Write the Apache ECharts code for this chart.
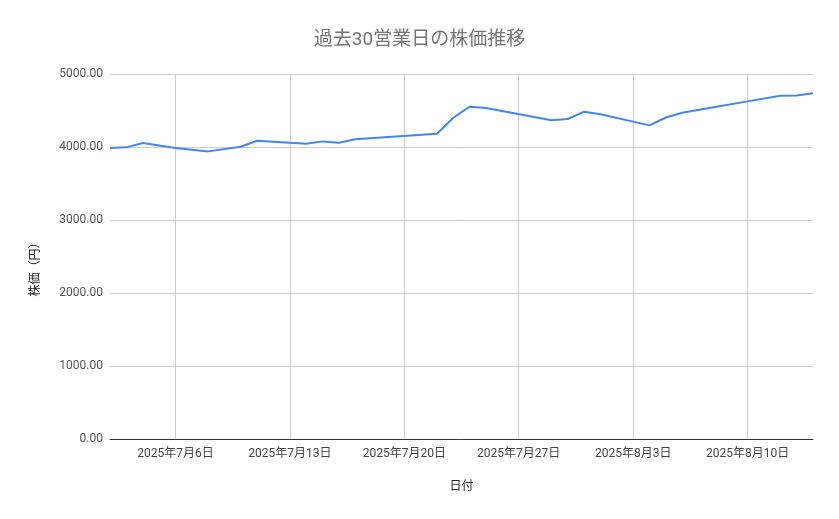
<!DOCTYPE html>
<html>
<head>
<meta charset="utf-8">
<script src="https://cdn.jsdelivr.net/npm/echarts@6/dist/echarts.min.js"></script>
<style>
  html, body { margin: 0; padding: 0; background: #fff; }
  #chart { width: 839px; height: 519px; }
</style>
</head>
<body>
<div id="chart"></div>
<script>
// 株価データ
const dates = [
  "2025-07-02", "2025-07-03", "2025-07-04", "2025-07-06", "2025-07-08",
  "2025-07-10", "2025-07-11", "2025-07-14", "2025-07-15", "2025-07-16",
  "2025-07-17", "2025-07-22", "2025-07-23", "2025-07-24", "2025-07-25",
  "2025-07-29", "2025-07-30", "2025-07-31", "2025-08-01", "2025-08-04",
  "2025-08-05", "2025-08-06", "2025-08-08", "2025-08-10", "2025-08-12",
  "2025-08-13", "2025-08-14"
];
const prices = [
  3985, 3995, 4055, 3985, 3940,
  4004, 4086, 4045, 4077, 4059,
  4107, 4182, 4401, 4552, 4534,
  4367, 4384, 4484, 4449, 4296,
  4404, 4470, 4548, 4625, 4703,
  4705, 4737
];
// 目盛り（毎週日曜）
const tickDates = ["2025-07-06", "2025-07-13", "2025-07-20", "2025-07-27", "2025-08-03", "2025-08-10"];
const xMin = "2025-07-02";
const xMax = "2025-08-14";

// 日付文字列 → ミリ秒
function toTime(s) {
  const [y, m, d] = s.split("-").map(Number);
  return new Date(y, m - 1, d).getTime();
}

const font = 'Roboto, "Noto Sans CJK JP", sans-serif';
const chart = echarts.init(document.getElementById("chart"));

chart.setOption({
  animation: false,
  textStyle: { fontFamily: font },
  title: {
    text: "過去30営業日の株価推移",
    left: "center",
    top: 26,
    textStyle: { fontFamily: font, fontSize: 19, fontWeight: "normal", color: "#757575" },
  },
  grid: { left: 110, right: 26, top: 74, bottom: 80 },
  xAxis: {
    // 値軸にして日曜日だけ目盛りを置く
    type: "value",
    min: toTime(xMin),
    max: toTime(xMax),
    name: "日付",
    nameLocation: "middle",
    nameGap: 42,
    nameTextStyle: { fontFamily: font, fontSize: 12, color: "#222" },
    axisLine: { show: true, lineStyle: { color: "#333", width: 1 } },
    axisTick: { show: false, customValues: tickDates.map(toTime) },
    axisLabel: {
      customValues: tickDates.map(toTime),
      color: "#444",
      fontSize: 12,
      margin: 9,
      formatter: (v) => {
        const d = new Date(v);
        return `${d.getFullYear()}年${d.getMonth() + 1}月${d.getDate()}日`;
      },
    },
    splitLine: { show: true, lineStyle: { color: "#cccccc", width: 1 } },
  },
  yAxis: {
    type: "value",
    min: 0,
    max: 5000,
    interval: 1000,
    name: "株価（円）",
    nameLocation: "middle",
    nameGap: 68,
    nameRotate: 90,
    nameTextStyle: { fontFamily: font, fontSize: 12, color: "#222", padding: [0, 20, 0, 0] },
    axisLine: { show: false },
    axisTick: { show: false },
    axisLabel: {
      color: "#555",
      fontSize: 12,
      margin: 7,
      formatter: (v) => v.toFixed(2),
    },
    splitLine: { lineStyle: { color: "#cccccc", width: 1 } },
  },
  series: [
    {
      name: "株価",
      type: "line",
      data: dates.map((d, i) => [toTime(d), prices[i]]),
      showSymbol: false,
      lineStyle: { color: "#4285F4", width: 2 },
      itemStyle: { color: "#4285F4" },
    },
  ],
});
</script>
</body>
</html>
